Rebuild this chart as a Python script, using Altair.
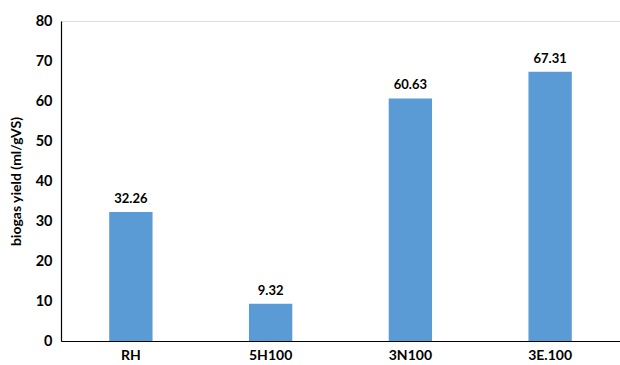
import altair as alt
import pandas as pd

categories = ["RH", "5H100", "3N100", "3E.100"]
values = [32.26, 9.32, 60.63, 67.31]
labels = ["32.26", "9.32", "60.63", "67.31"]
yticks = [0, 10, 20, 30, 40, 50, 60, 70, 80]

df = pd.DataFrame({"cat": categories, "val": values, "lab": labels})

FONT = "Lato"

x = alt.X("cat:N", sort=categories, title=None,
          scale=alt.Scale(paddingInner=0.69, paddingOuter=0.345),
          axis=alt.Axis(labelAngle=0, labelFont=FONT, labelFontWeight="bold",
                        labelFontSize=14, labelColor="black", ticks=False,
                        domainColor="black", domainWidth=1.2, labelPadding=7))

base = alt.Chart(df)

bars = base.mark_bar(color="#5B9BD5").encode(
    x=x,
    y=alt.Y("val:Q", title="biogas yield (ml/gVS)",
            scale=alt.Scale(domain=[0, 80], nice=False),
            axis=alt.Axis(values=yticks, tickCount=9, labelOverlap=False, grid=False, ticks=False,
                          labelFont=FONT, labelFontWeight="bold", labelFontSize=14.5,
                          labelColor="black", domainColor="black", domainWidth=1.2,
                          labelPadding=9, titleFont=FONT, titleFontWeight="bold",
                          titleFontSize=14, titleColor="black", titlePadding=12)),
)

text = base.mark_text(dy=-13, font=FONT, fontWeight="bold", fontSize=13, color="black").encode(
    x=alt.X("cat:N", sort=categories),
    y="val:Q",
    text="lab:N",
)

chart = (bars + text).properties(
    width=559, height=320,
    autosize=alt.AutoSizeParams(type="none"),
    padding={"left": 61, "top": 21, "right": 0, "bottom": 24},
).configure_view(stroke=None).configure(background="white")

chart.save("out.html", embed_options={"renderer": "svg", "actions": False})
